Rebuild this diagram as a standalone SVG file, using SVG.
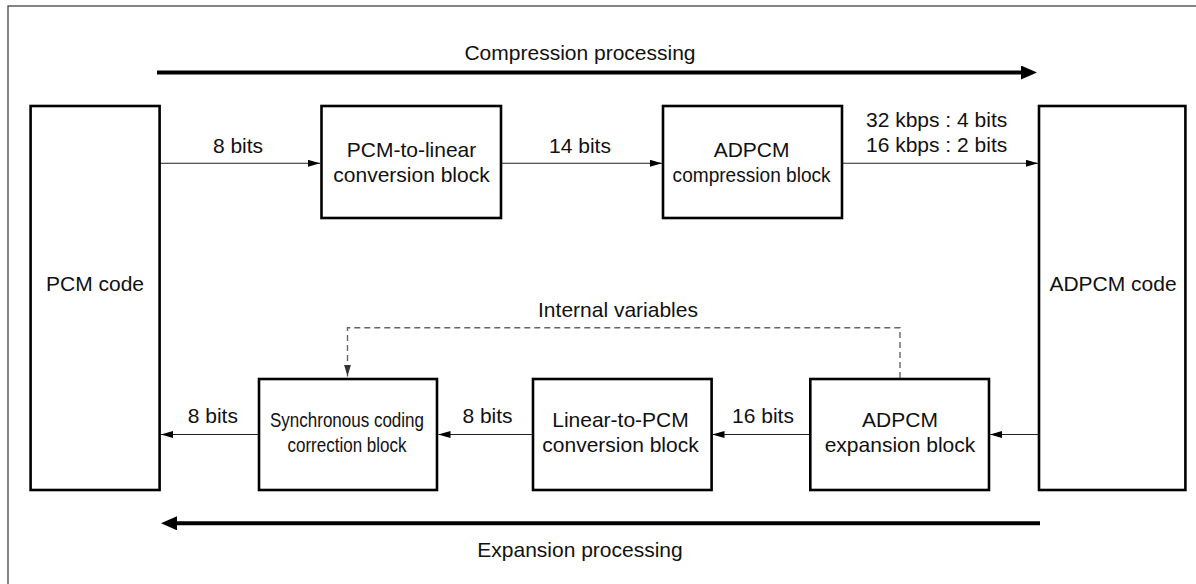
<svg xmlns="http://www.w3.org/2000/svg" width="1196" height="584" viewBox="0 0 1196 584">
  <style>
    .box { fill: #fff; stroke: #000; stroke-width: 2.6; }
    .t { font-family: "Liberation Sans", Arial, sans-serif; font-size: 21px; fill: #111; text-anchor: middle; }
    .link { fill: none; stroke: #222; stroke-width: 1.1; }
    .flow { fill: none; stroke: #000; stroke-width: 4; }
    .dash { fill: none; stroke: #666; stroke-width: 1.4; stroke-dasharray: 6 4; }
    .frame { fill: none; stroke: #444; stroke-width: 1.3; }
  </style>
  <defs>
    <marker id="arrow" markerUnits="userSpaceOnUse" markerWidth="12" markerHeight="7" refX="12" refY="3.5" orient="auto">
      <path d="M0,0 L12,3.5 L0,7 Z" fill="#000"/>
    </marker>
    <marker id="arrow-gray" markerUnits="userSpaceOnUse" markerWidth="12" markerHeight="7" refX="12" refY="3.5" orient="auto">
      <path d="M0,0 L12,3.5 L0,7 Z" fill="#333"/>
    </marker>
    <marker id="bigarrow" markerUnits="userSpaceOnUse" markerWidth="16" markerHeight="14" refX="0" refY="7" orient="auto">
      <path d="M0,0 L16,7 L0,14 Z" fill="#000"/>
    </marker>
  </defs>

  <!-- outer frame -->
  <rect class="frame" x="8" y="6" width="1200" height="600"/>

  <!-- process direction arrows -->
  <g id="process-flow">
    <line class="flow" x1="157" y1="72.5" x2="1021" y2="72.5" marker-end="url(#bigarrow)"/>
    <text class="t" x="580" y="60">Compression processing</text>
    <line class="flow" x1="1040" y1="523.3" x2="177" y2="523.3" marker-end="url(#bigarrow)"/>
    <text class="t" x="580" y="556.7">Expansion processing</text>
  </g>

  <!-- connectors -->
  <g id="connectors">
    <line class="link" x1="160" y1="163.3" x2="320" y2="163.3" marker-end="url(#arrow)"/>
    <line class="link" x1="501" y1="163.3" x2="662" y2="163.3" marker-end="url(#arrow)"/>
    <line class="link" x1="842" y1="163.3" x2="1038" y2="163.3" marker-end="url(#arrow)"/>
    <line class="link" x1="1039" y1="434.5" x2="990" y2="434.5" marker-end="url(#arrow)"/>
    <line class="link" x1="810" y1="434.5" x2="712.5" y2="434.5" marker-end="url(#arrow)"/>
    <line class="link" x1="533" y1="434.5" x2="438.5" y2="434.5" marker-end="url(#arrow)"/>
    <line class="link" x1="259" y1="434.5" x2="161" y2="434.5" marker-end="url(#arrow)"/>
    <path class="dash" d="M900,378 V327.7 H347.5 V376.5" marker-end="url(#arrow-gray)"/>

    <text class="t" x="238" y="153">8 bits</text>
    <text class="t" x="580" y="153">14 bits</text>
    <text class="t" x="936.6" y="126.7">32 kbps : 4 bits</text>
    <text class="t" x="936.6" y="151.7">16 kbps : 2 bits</text>
    <text class="t" x="618" y="316.7">Internal variables</text>
    <text class="t" x="763" y="423.3">16 bits</text>
    <text class="t" x="487.5" y="423.3">8 bits</text>
    <text class="t" x="212.8" y="423.3">8 bits</text>
  </g>

  <!-- nodes -->
  <g id="pcm-code">
    <rect class="box" x="30.6" y="106" width="129" height="384"/>
    <text class="t" x="95" y="290.7">PCM code</text>
  </g>

  <g id="adpcm-code">
    <rect class="box" x="1039" y="106" width="146.4" height="384"/>
    <text class="t" x="1113" y="290.7">ADPCM code</text>
  </g>

  <g id="pcm-to-linear">
    <rect class="box" x="321.5" y="106" width="179.5" height="112"/>
    <text class="t" x="411.5" y="156.7">PCM-to-linear</text>
    <text class="t" x="411.5" y="181.7">conversion block</text>
  </g>

  <g id="adpcm-compression">
    <rect class="box" x="663" y="106" width="179" height="112"/>
    <text class="t" x="751.6" y="156.7">ADPCM</text>
    <text class="t" x="751.6" y="181.7" textLength="158" lengthAdjust="spacingAndGlyphs">compression block</text>
  </g>

  <g id="sync-coding-correction">
    <rect class="box" x="259" y="379" width="178" height="111"/>
    <text class="t" x="347" y="426.7" textLength="154" lengthAdjust="spacingAndGlyphs">Synchronous coding</text>
    <text class="t" x="347" y="451.7" textLength="119" lengthAdjust="spacingAndGlyphs">correction block</text>
  </g>

  <g id="linear-to-pcm">
    <rect class="box" x="533" y="379" width="178.6" height="111"/>
    <text class="t" x="620.5" y="426.7">Linear-to-PCM</text>
    <text class="t" x="620.5" y="451.7">conversion block</text>
  </g>

  <g id="adpcm-expansion">
    <rect class="box" x="810.3" y="379" width="178.7" height="111"/>
    <text class="t" x="900" y="426.7">ADPCM</text>
    <text class="t" x="900" y="451.7">expansion block</text>
  </g>
</svg>
